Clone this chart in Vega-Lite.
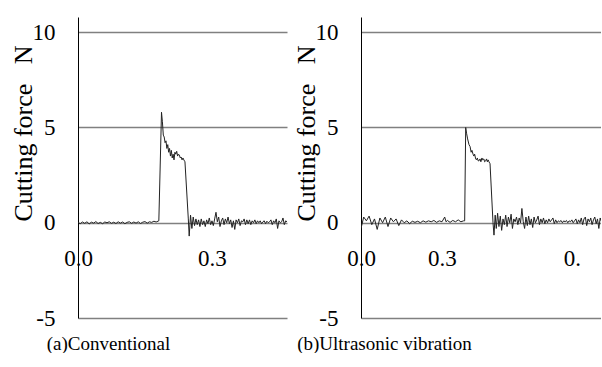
{
  "$schema": "https://vega.github.io/schema/vega-lite/v6.json",
  "padding": {"left": 9, "top": 17, "right": 0, "bottom": 0},
  "background": "white",
  "spacing": 5,
  "config": {
    "view": {"stroke": null},
    "font": "Liberation Serif, Times New Roman, serif",
    "axis": {"labelFont": "Liberation Serif, Times New Roman, serif", "titleFont": "Liberation Serif, Times New Roman, serif", "labelColor": "#000", "titleColor": "#000", "titleFontWeight": "normal"}
  },
  "datasets": {
    "a": [
      {"t":0,"F":0.02},{"t":0.005,"F":-0.05},{"t":0.01,"F":0.04},{"t":0.015,"F":-0.03},{"t":0.02,"F":0.05},{"t":0.025,"F":-0.06},{"t":0.03,"F":0.03},{"t":0.035,"F":-0.02},{"t":0.04,"F":0.06},{"t":0.045,"F":-0.04},{"t":0.05,"F":0.02},{"t":0.055,"F":-0.05},{"t":0.06,"F":0.04},{"t":0.065,"F":0},{"t":0.07,"F":0.05},{"t":0.075,"F":-0.03},{"t":0.08,"F":0.03},{"t":0.085,"F":-0.04},{"t":0.09,"F":0.05},{"t":0.095,"F":-0.02},{"t":0.1,"F":0.04},{"t":0.105,"F":-0.05},{"t":0.11,"F":0.02},{"t":0.115,"F":0.05},{"t":0.12,"F":-0.03},{"t":0.125,"F":0.04},{"t":0.13,"F":-0.02},{"t":0.135,"F":0.05},{"t":0.14,"F":-0.04},{"t":0.145,"F":0.03},{"t":0.15,"F":0.06},{"t":0.155,"F":-0.02},{"t":0.16,"F":0.05},{"t":0.165,"F":0.02},{"t":0.17,"F":0.08},{"t":0.175,"F":0.04},{"t":0.181,"F":0.1},
      {"t":0.187,"F":5.8},{"t":0.189,"F":5.3},{"t":0.191,"F":4.6},{"t":0.193,"F":4.5},{"t":0.195,"F":4.2},{"t":0.197,"F":4.3},{"t":0.199,"F":3.9},{"t":0.201,"F":4.1},{"t":0.203,"F":3.7},{"t":0.205,"F":3.9},{"t":0.207,"F":3.5},{"t":0.209,"F":3.8},{"t":0.211,"F":3.4},{"t":0.213,"F":3.6},{"t":0.215,"F":3.3},{"t":0.217,"F":3.7},{"t":0.219,"F":3.6},{"t":0.221,"F":3.75},{"t":0.223,"F":3.5},{"t":0.225,"F":3.6},{"t":0.227,"F":3.55},{"t":0.229,"F":3.4},{"t":0.231,"F":3.45},{"t":0.233,"F":3.3},{"t":0.235,"F":3.4},{"t":0.237,"F":3.3},{"t":0.2395,"F":3.2},{"t":0.247,"F":0.2},{"t":0.249,"F":-0.7},
      {"t":0.252,"F":0.4},{"t":0.255,"F":-0.3},{"t":0.258,"F":0.3},{"t":0.261,"F":-0.15},{"t":0.264,"F":0.2},{"t":0.267,"F":-0.1},{"t":0.27,"F":0.15},{"t":0.273,"F":-0.2},{"t":0.276,"F":0.2},{"t":0.279,"F":-0.1},{"t":0.282,"F":0.1},{"t":0.285,"F":-0.2},{"t":0.288,"F":0.15},{"t":0.291,"F":-0.05},{"t":0.294,"F":0.25},{"t":0.297,"F":-0.1},{"t":0.3,"F":0.1},{"t":0.303,"F":-0.15},{"t":0.306,"F":0.2},{"t":0.309,"F":0.55},{"t":0.312,"F":0.05},{"t":0.315,"F":0.3},{"t":0.318,"F":-0.2},{"t":0.321,"F":0.1},{"t":0.324,"F":0.25},{"t":0.327,"F":-0.1},{"t":0.33,"F":0.2},{"t":0.333,"F":0},{"t":0.336,"F":0.3},{"t":0.339,"F":-0.05},{"t":0.342,"F":0.15},{"t":0.345,"F":-0.25},{"t":0.348,"F":0.1},{"t":0.351,"F":-0.35},{"t":0.354,"F":0.15},{"t":0.357,"F":0},{"t":0.36,"F":0.2},{"t":0.363,"F":-0.15},{"t":0.366,"F":0.1},{"t":0.369,"F":0.05},{"t":0.372,"F":0.2},{"t":0.375,"F":-0.1},{"t":0.378,"F":0.15},{"t":0.381,"F":-0.05},{"t":0.384,"F":0.15},{"t":0.387,"F":-0.1},{"t":0.39,"F":0.1},{"t":0.393,"F":0},{"t":0.396,"F":0.15},{"t":0.399,"F":-0.05},{"t":0.402,"F":0.1},{"t":0.405,"F":0},{"t":0.408,"F":0.1},{"t":0.411,"F":-0.05},{"t":0.414,"F":0.05},{"t":0.417,"F":0.1},{"t":0.42,"F":-0.05},{"t":0.423,"F":0.08},{"t":0.426,"F":0},{"t":0.429,"F":0.05},{"t":0.432,"F":0.15},{"t":0.435,"F":-0.1},{"t":0.438,"F":0.1},{"t":0.441,"F":0},{"t":0.444,"F":0.2},{"t":0.447,"F":-0.3},{"t":0.45,"F":0.1},{"t":0.453,"F":0},{"t":0.456,"F":0.05},{"t":0.459,"F":0.25},{"t":0.462,"F":-0.1},{"t":0.465,"F":0.1},{"t":0.468,"F":0.05}
    ],
    "b": [
      {"t":0,"F":-0.3},{"t":0.01,"F":0.3},{"t":0.02,"F":0.1},{"t":0.03,"F":0.35},{"t":0.04,"F":-0.1},{"t":0.05,"F":0.2},{"t":0.06,"F":-0.35},{"t":0.07,"F":0.25},{"t":0.08,"F":0},{"t":0.09,"F":0.3},{"t":0.1,"F":-0.2},{"t":0.11,"F":0.25},{"t":0.12,"F":0.05},{"t":0.13,"F":0.2},{"t":0.14,"F":-0.15},{"t":0.15,"F":0.15},{"t":0.16,"F":0},{"t":0.17,"F":0.1},{"t":0.18,"F":-0.05},{"t":0.19,"F":0.08},{"t":0.2,"F":0.02},{"t":0.21,"F":0.08},{"t":0.22,"F":0},{"t":0.23,"F":0.1},{"t":0.24,"F":0.03},{"t":0.25,"F":0.1},{"t":0.26,"F":0.05},{"t":0.27,"F":0.12},{"t":0.28,"F":0.02},{"t":0.29,"F":0.1},{"t":0.3,"F":0.05},{"t":0.31,"F":0.3},{"t":0.315,"F":0.05},{"t":0.32,"F":0.12},{"t":0.33,"F":0.02},{"t":0.34,"F":0.12},{"t":0.35,"F":0.05},{"t":0.36,"F":0.15},{"t":0.37,"F":0.05},{"t":0.38,"F":0.1},{"t":0.384,"F":0.1},
      {"t":0.3878,"F":5.0},{"t":0.391,"F":4.7},{"t":0.395,"F":4.4},{"t":0.4,"F":4.1},{"t":0.404,"F":4.0},{"t":0.408,"F":3.7},{"t":0.411,"F":3.8},{"t":0.415,"F":3.6},{"t":0.418,"F":3.5},{"t":0.421,"F":3.6},{"t":0.4248,"F":3.35},{"t":0.428,"F":3.3},{"t":0.431,"F":3.4},{"t":0.434,"F":3.25},{"t":0.437,"F":3.25},{"t":0.441,"F":3.35},{"t":0.444,"F":3.2},{"t":0.448,"F":3.4},{"t":0.451,"F":3.3},{"t":0.455,"F":3.35},{"t":0.458,"F":3.2},{"t":0.4619,"F":3.25},{"t":0.465,"F":3.35},{"t":0.468,"F":3.2},{"t":0.471,"F":3.3},{"t":0.474,"F":3.2},{"t":0.478,"F":3.1},{"t":0.489,"F":0},{"t":0.4926,"F":-0.65},{"t":0.497,"F":0.4},
      {"t":0.501,"F":-0.3},{"t":0.506,"F":0.5},{"t":0.511,"F":-0.2},{"t":0.516,"F":0.35},{"t":0.521,"F":-0.4},{"t":0.526,"F":0.2},{"t":0.531,"F":-0.1},{"t":0.536,"F":0.4},{"t":0.541,"F":-0.2},{"t":0.546,"F":0.3},{"t":0.551,"F":0},{"t":0.556,"F":0.45},{"t":0.561,"F":-0.3},{"t":0.566,"F":0.2},{"t":0.571,"F":0.05},{"t":0.576,"F":0.3},{"t":0.581,"F":-0.1},{"t":0.586,"F":0.25},{"t":0.591,"F":0},{"t":0.596,"F":0.75},{"t":0.601,"F":0.05},{"t":0.606,"F":-0.3},{"t":0.611,"F":0.3},{"t":0.616,"F":-0.15},{"t":0.621,"F":0.35},{"t":0.626,"F":-0.1},{"t":0.631,"F":0.2},{"t":0.636,"F":-0.25},{"t":0.641,"F":0.3},{"t":0.646,"F":0},{"t":0.651,"F":0.15},{"t":0.656,"F":0.35},{"t":0.661,"F":-0.1},{"t":0.666,"F":0.2},{"t":0.671,"F":0},{"t":0.676,"F":0.25},{"t":0.681,"F":-0.05},{"t":0.686,"F":0.15},{"t":0.691,"F":0},{"t":0.696,"F":0.2},{"t":0.701,"F":0.05},{"t":0.706,"F":0.15},{"t":0.711,"F":0.25},{"t":0.716,"F":-0.05},{"t":0.721,"F":0.15},{"t":0.726,"F":0},{"t":0.731,"F":0.1},{"t":0.736,"F":0.05},{"t":0.741,"F":0.12},{"t":0.746,"F":0},{"t":0.751,"F":0.1},{"t":0.756,"F":0.05},{"t":0.761,"F":0.12},{"t":0.766,"F":0},{"t":0.771,"F":0.1},{"t":0.776,"F":0.05},{"t":0.781,"F":0.15},{"t":0.786,"F":0},{"t":0.791,"F":0.1},{"t":0.796,"F":0.2},{"t":0.801,"F":-0.05},{"t":0.806,"F":0.15},{"t":0.811,"F":0},{"t":0.816,"F":0.25},{"t":0.821,"F":-0.1},{"t":0.826,"F":0.2},{"t":0.831,"F":0.3},{"t":0.836,"F":-0.15},{"t":0.841,"F":0.2},{"t":0.846,"F":0.05},{"t":0.851,"F":0.25},{"t":0.856,"F":-0.1},{"t":0.861,"F":0.15},{"t":0.866,"F":0.3},{"t":0.871,"F":-0.05},{"t":0.876,"F":0.2},{"t":0.881,"F":-0.3},{"t":0.886,"F":0.25},{"t":0.889,"F":0.1}
    ]
  },
  "hconcat": [
    {
      "width": 209,
      "height": 301,
      "layer": [
        {
          "data": {"name": "a"},
          "mark": {"type": "line", "color": "#222", "strokeWidth": 1, "clip": true},
          "encoding": {
            "x": {"field": "t", "type": "quantitative", "scale": {"domain": [0, 0.468], "nice": false, "zero": false},
              "axis": {"title": "(a)Conventional", "values": [0, 0.3], "format": ".1f", "offset": -96, "domain": false, "ticks": false, "grid": false, "labelFontSize": 23, "labelPadding": 25, "labelFlush": false, "labelOverlap": false, "titleFontSize": 19, "titleX": 30, "titleY": 121, "titleAlign": "center", "titleBaseline": "middle"}},
            "y": {"field": "F", "type": "quantitative", "scale": {"domain": [-5, 10.8], "nice": false},
              "axis": {"title": "Cutting force\u00a0\u00a0\u00a0N", "values": [-5, 0, 5, 10], "labelExpr": "replace(datum.label, '\u2212', '-')", "grid": true, "gridColor": "#808080", "gridWidth": 1.5, "domainColor": "black", "domainWidth": 1, "ticks": false, "labelFontSize": 23, "labelPadding": 23, "titleFontSize": 26, "titleX": -55, "titleY": 116, "titleAngle": -90, "titleAlign": "center", "titleBaseline": "middle"}}
          }
        },
        {"mark": {"type": "rule", "color": "black", "strokeWidth": 1}, "encoding": {"y": {"datum": 0, "type": "quantitative"}}},
        {"mark": {"type": "rule", "color": "black", "strokeWidth": 2.5}, "encoding": {"x": {"datum": 0.461, "type": "quantitative"}, "y": {"datum": -4.85, "type": "quantitative"}, "y2": {"datum": 10.8}}}
      ]
    },
    {
      "width": 240,
      "height": 301,
      "layer": [
        {
          "data": {"name": "b"},
          "mark": {"type": "line", "color": "#222", "strokeWidth": 1, "clip": true},
          "encoding": {
            "x": {"field": "t", "type": "quantitative", "scale": {"domain": [0, 0.889], "nice": false, "zero": false},
              "axis": {"title": "(b)Ultrasonic vibration", "values": [0, 0.3, 0.781], "labelExpr": "datum.value > 0.5 ? '0.' : format(datum.value, '.1f')", "offset": -96, "domain": false, "ticks": false, "grid": false, "labelFontSize": 23, "labelPadding": 25, "labelFlush": false, "labelOverlap": false, "titleFontSize": 19, "titleX": 23, "titleY": 121, "titleAlign": "center", "titleBaseline": "middle"}},
            "y": {"field": "F", "type": "quantitative", "scale": {"domain": [-5, 10.8], "nice": false},
              "axis": {"title": "Cutting force\u00a0\u00a0\u00a0N", "values": [-5, 0, 5, 10], "labelExpr": "replace(datum.label, '\u2212', '-')", "grid": true, "gridColor": "#808080", "gridWidth": 1.5, "domainColor": "black", "domainWidth": 1, "ticks": false, "labelFontSize": 23, "labelPadding": 23, "titleFontSize": 26, "titleX": -55, "titleY": 116, "titleAngle": -90, "titleAlign": "center", "titleBaseline": "middle"}}
          }
        },
        {"mark": {"type": "rule", "color": "black", "strokeWidth": 1}, "encoding": {"y": {"datum": 0, "type": "quantitative"}}}
      ]
    }
  ]
}
